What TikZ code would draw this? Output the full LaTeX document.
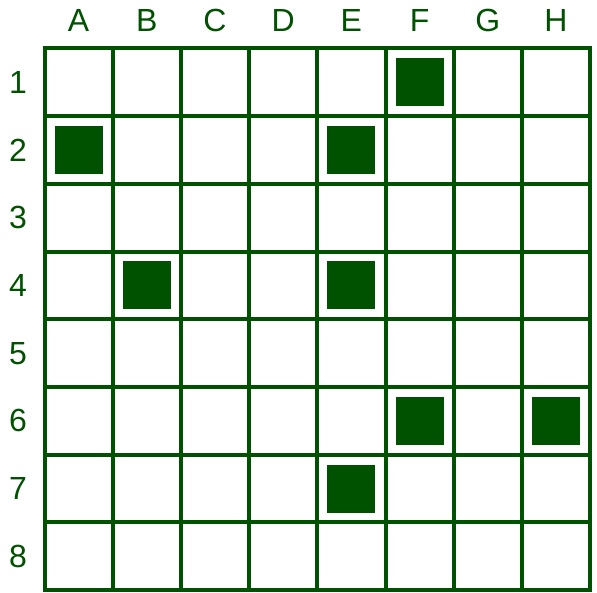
\documentclass[tikz,border=0pt]{standalone}
\usepackage{fontspec}
\setmainfont{Liberation Sans}
\definecolor{dg}{RGB}{0,82,0}
\begin{document}
\begin{tikzpicture}[x=1pt,y=-1pt,
  gridline/.style={draw=dg,line width=4pt},
  piece/.style={fill=dg},
  lbl/.style={text=dg,font=\fontsize{32}{32}\selectfont,inner sep=0pt,anchor=center}]
\useasboundingbox (0,0) rectangle (597,593);
\fill[white] (0,0) rectangle (597,593);
\def\xo{44.5}\def\yo{48.5}\def\cw{68.2}\def\ch{67.7}
% grid
\foreach \i in {0,...,8}{
  \draw[gridline] ({\xo+\i*\cw},{\yo-2}) -- ({\xo+\i*\cw},{\yo+8*\ch+2});
  \draw[gridline] ({\xo-2},{\yo+\i*\ch}) -- ({\xo+8*\cw+2},{\yo+\i*\ch});
}
% column labels
\foreach \l [count=\i from 0] in {A,B,C,D,E,F,G,H}
  \node[lbl] (col\l) at ({\xo+(\i+0.5)*\cw},20) {\l};
% row labels
\foreach \r in {1,...,8}
  \node[lbl] (row\r) at (18,{\yo+(\r-0.5)*\ch}) {\r};
% pieces (column index, row index)
\foreach \c/\r in {5/0,0/1,4/1,1/3,4/3,5/5,7/5,4/6}
  \fill[piece] ({\xo+(\c+0.5)*\cw-24},{\yo+(\r+0.5)*\ch-24}) rectangle ++(48,48);
\end{tikzpicture}
\end{document}
